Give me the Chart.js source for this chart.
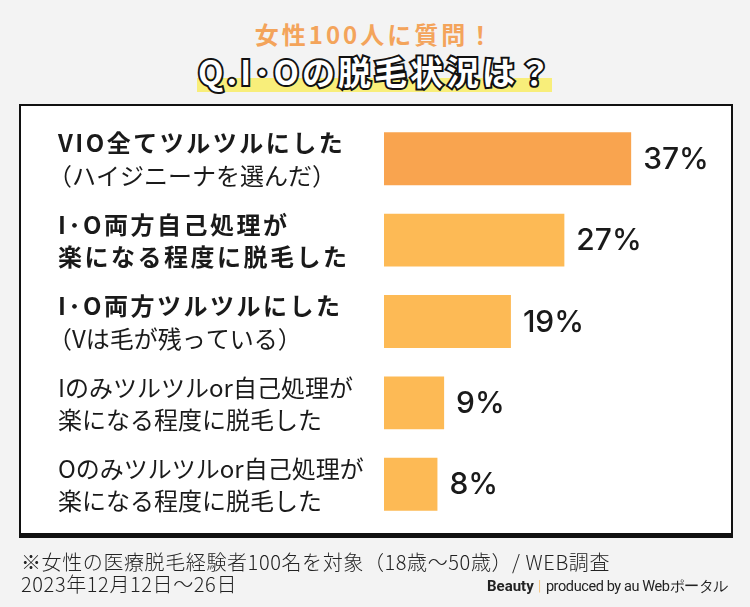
<!DOCTYPE html>
<html lang="ja">
<head>
<meta charset="utf-8">
<script src="https://cdn.jsdelivr.net/npm/chart.js@4"></script>
<style>
  html, body { margin: 0; padding: 0; }
  body { width: 750px; height: 607px; background: #f3f3f3; position: relative; overflow: hidden;
         font-family: "Noto Sans CJK JP", sans-serif; }
  .sub { position: absolute; left: 0; width: 750px; top: 17px; text-align: center;
         font-size: 24px; font-weight: 700; color: #f3a45b; letter-spacing: 3px; line-height: 34px; }
  .mark { position: absolute; left: 197px; top: 78px; width: 355px; height: 14px; background: #f8ee7a; }
  .q { position: absolute; left: 198px; top: 49px; font-size: 33px; font-weight: 700; line-height: 44px;
       letter-spacing: 3px; white-space: nowrap; }
  .q span { position: absolute; left: 0; top: 0; }
  .q .stroke { color: #111; -webkit-text-stroke: 4px #111; }
  .q .fill { color: #fff; }
  .box { position: absolute; left: 19px; top: 104px; width: 710px; height: 427px; background: #fff;
         border: 2px solid #111; border-bottom-width: 5px; }
  #chart { position: absolute; left: 0; top: 0; }
  .note { position: absolute; left: 21px; top: 551px; font-size: 20px; line-height: 22px; color: #222;
          font-weight: 300; letter-spacing: 0.6px; white-space: nowrap; }
  .credit { position: absolute; left: 487px; top: 576px; font-family: Roboto, sans-serif; font-size: 14.5px;
            color: #222; white-space: nowrap; line-height: 20px; letter-spacing: -0.4px; }
  .credit b { font-weight: 700; font-size: 15px; letter-spacing: 0; }
  .credit i { font-style: normal; color: #f5c98a; margin: 0 5px 0 4px; }
</style>
</head>
<body>
<div class="sub">女性100人に質問！</div>
<div class="mark"></div>
<div class="q"><span class="stroke">Q.I･Oの脱毛状況は？</span><span class="fill">Q.I･Oの脱毛状況は？</span></div>
<div class="box"></div>
<canvas id="chart" width="750" height="607"></canvas>
<div class="note">※女性の医療脱毛経験者100名を対象（18歳〜50歳）/ WEB調査<br>2023年12月12日〜26日</div>
<div class="credit"><b>Beauty</b><i>|</i>produced by au Webポータル</div>

<script>
// Data
const categories = [
  ["VIO全てツルツルにした", "（ハイジニーナを選んだ）"],
  ["I･O両方自己処理が", "楽になる程度に脱毛した"],
  ["I･O両方ツルツルにした", "（Vは毛が残っている）"],
  ["Iのみツルツルor自己処理が", "楽になる程度に脱毛した"],
  ["Oのみツルツルor自己処理が", "楽になる程度に脱毛した"]
];
const percents = [37, 27, 19, 9, 8];

// which label lines are bold
const boldLines = [[true, false], [true, true], [true, false], [false, false], [false, false]];

// Labels on the left + value labels
const labelPlugin = {
  id: "labels",
  afterDatasetsDraw(chart) {
    const ctx = chart.ctx;
    const yScale = chart.scales.y;
    const meta = chart.getDatasetMeta(0);
    ctx.save();
    ctx.fillStyle = "#1a1a1a";
    ctx.textBaseline = "middle";
    ctx.textAlign = "left";
    categories.forEach((lines, i) => {
      const y = yScale.getPixelForValue(i);
      lines.forEach((line, j) => {
        const bold = boldLines[i][j];
        ctx.font = (bold ? "700 " : "400 ") + "24px 'Noto Sans CJK JP'";
        ctx.letterSpacing = bold ? "2.5px" : "0px";
        const x = line.startsWith("（") ? 48 : 58;
        ctx.fillText(line, x, y + (j === 0 ? -15.5 : 17));
      });
    });
    ctx.letterSpacing = "0px";
    ctx.font = "500 30px Inter";
    meta.data.forEach((bar, i) => {
      ctx.fillText(percents[i] + "%", bar.x + 12, bar.y + 1);
    });
    ctx.restore();
  }
};

const ctx = document.getElementById("chart").getContext("2d");
new Chart(ctx, {
  type: "bar",
  data: {
    labels: categories,
    datasets: [{
      data: percents,
      backgroundColor: ["#f9a44f", "#fdba55", "#fdba55", "#fdba55", "#fdba55"],
      borderWidth: 0,
      barPercentage: 0.65,
      categoryPercentage: 1
    }]
  },
  options: {
    indexAxis: "y",
    responsive: false,
    devicePixelRatio: 1,
    animation: false,
    layout: { padding: { left: 384, right: 32, top: 118, bottom: 82 } },
    plugins: { legend: { display: false }, tooltip: { enabled: false } },
    scales: {
      x: { display: false, min: 0, max: 50 },
      y: { display: false }
    }
  },
  plugins: [labelPlugin]
});
</script>
</body>
</html>
